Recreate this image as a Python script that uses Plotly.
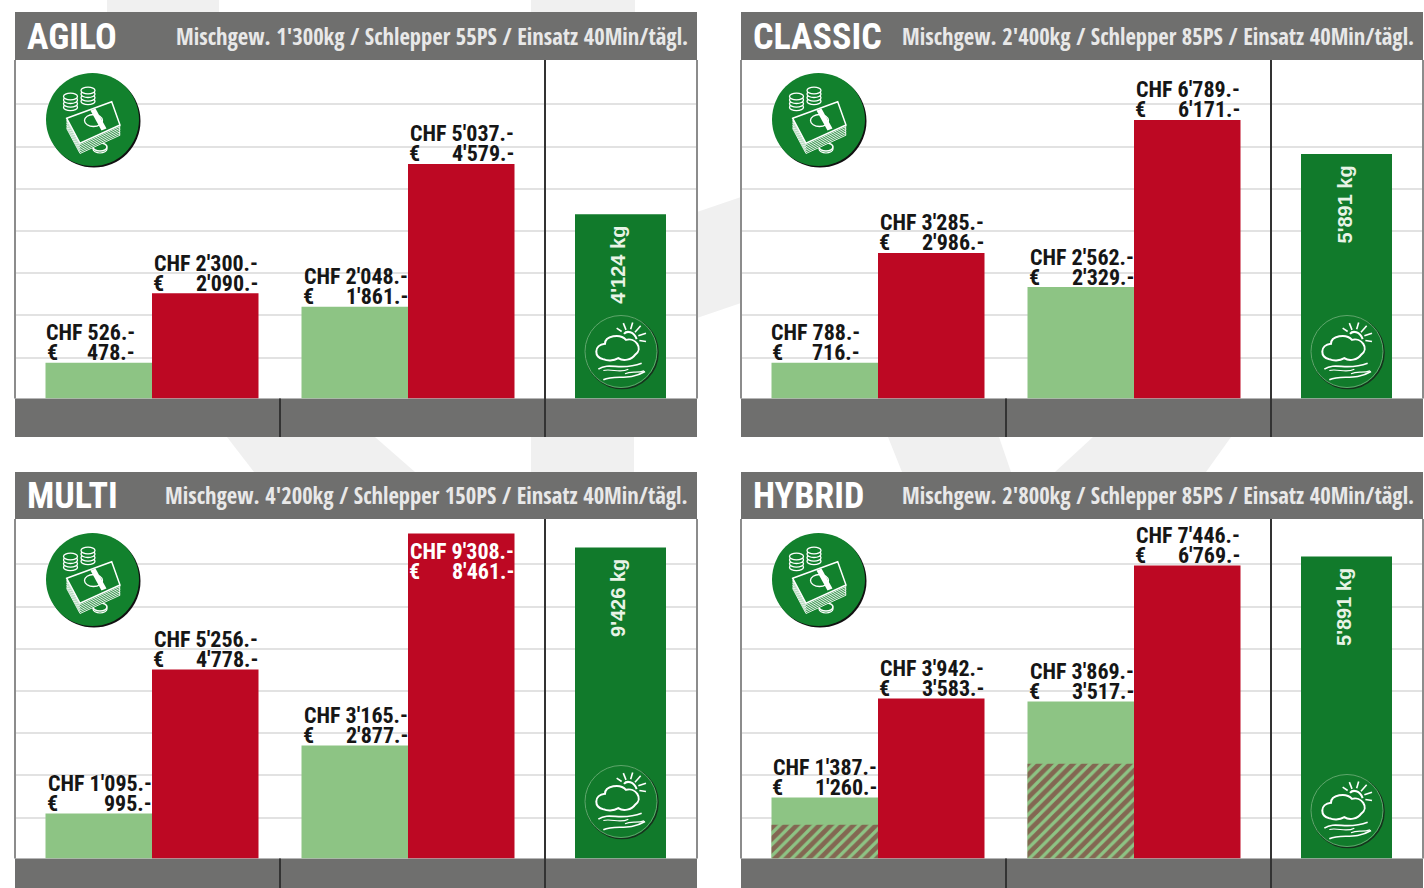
import plotly.graph_objects as go

W, H = 1424, 888

# ---------- data ----------
panel_names = ["AGILO", "CLASSIC", "MULTI", "HYBRID"]
panel_specs = [
    "Mischgew. 1'300kg / Schlepper 55PS / Einsatz 40Min/tägl.",
    "Mischgew. 2'400kg / Schlepper 85PS / Einsatz 40Min/tägl.",
    "Mischgew. 4'200kg / Schlepper 150PS / Einsatz 40Min/tägl.",
    "Mischgew. 2'800kg / Schlepper 85PS / Einsatz 40Min/tägl.",
]
groups = [0, 1]
# bar heights, read on each panel's gridline scale (1000 = one gridline)
agilo_green = [848, 2176]
agilo_red = [2493, 5557]
classic_green = [848, 2642]
classic_red = [3448, 6600]
multi_green = [1066, 2678]
multi_red = [4479, 7703]
hybrid_green = [1446, 3721]
hybrid_red = [3792, 6944]
hybrid_hatched = [799, 2245]
kg_heights = [4365, 5795, 7370, 7157]
kg_labels = ["4'124 kg", "5'891 kg", "9'426 kg", "5'891 kg"]
agilo_chf = ["526", "2'300", "2'048", "5'037"]
agilo_eur = ["478", "2'090", "1'861", "4'579"]
classic_chf = ["788", "3'285", "2'562", "6'789"]
classic_eur = ["716", "2'986", "2'329", "6'171"]
multi_chf = ["1'095", "5'256", "3'165", "9'308"]
multi_eur = ["995", "4'778", "2'877", "8'461"]
hybrid_chf = ["1'387", "3'942", "3'869", "7'446"]
hybrid_eur = ["1'260", "3'583", "3'517", "6'769"]
grid_values = [970, 1970, 2970, 3970, 4970, 5970, 6970]

green_series = [agilo_green, classic_green, multi_green, hybrid_green]
red_series = [agilo_red, classic_red, multi_red, hybrid_red]
chf_series = [agilo_chf, classic_chf, multi_chf, hybrid_chf]
eur_series = [agilo_eur, classic_eur, multi_eur, hybrid_eur]

# ---------- styles ----------
GREY = "#6f6f6e"
RED = "#bd0823"
LIGHT = "#8dc484"
DARK = "#117a2b"
ICON = "#12812d"
WM = "#f0f0f0"
GRID = "#e2e2e2"
BORDER = "#8c8c8c"
FONT = "Roboto Condensed"
HEAD_FONT = "Open Sans Condensed"


def px(x):
    return x / W


def py(y):
    return 1 - y / H


shapes = []


def rect(x0, y0, x1, y1, fill, layer="below"):
    shapes.append(dict(type="rect", xref="paper", yref="paper", x0=px(x0), x1=px(x1),
                       y0=py(y0), y1=py(y1), fillcolor=fill, line_width=0, layer=layer))


def vline(x, y0, y1, color, w=2):
    shapes.append(dict(type="line", xref="paper", yref="paper", x0=px(x), x1=px(x),
                       y0=py(y0), y1=py(y1), line=dict(color=color, width=w), layer="above"))


def poly(pts, fill, layer="below", line=None, lw=0):
    d = "M " + " L ".join(f"{px(a):.5f},{py(b):.5f}" for a, b in pts) + " Z"
    shapes.append(dict(type="path", xref="paper", yref="paper", path=d, fillcolor=fill,
                       line=dict(color=line or fill, width=lw), layer=layer))


def curve(segments, color="white", w=1.6):
    s = segments[0]
    d = f"M {px(s[0]):.5f},{py(s[1]):.5f}"
    for i in range(1, len(segments), 3):
        a, b, c = segments[i:i + 3]
        d += f" C {px(a[0]):.5f},{py(a[1]):.5f} {px(b[0]):.5f},{py(b[1]):.5f} {px(c[0]):.5f},{py(c[1]):.5f}"
    shapes.append(dict(type="path", xref="paper", yref="paper", path=d,
                       line=dict(color=color, width=w), layer="above"))


def ell(cx, cy, rx, ry, fill, line=None, lw=0):
    shapes.append(dict(type="circle", xref="paper", yref="paper", x0=px(cx - rx), x1=px(cx + rx),
                       y0=py(cy - ry), y1=py(cy + ry), fillcolor=fill,
                       line=dict(color=line or fill, width=lw), layer="above"))


def money_icon(cx, cy):
    ell(cx + 1.5, cy + 1.5, 46.5, 46.5, "#111111")
    ell(cx, cy, 46.5, 46.5, ICON)
    for sx, sy in [(-22, -17), (-4.5, -23)]:
        for k in range(3, -1, -1):
            ell(cx + sx, cy + sy + k * 3.6 - 6, 7, 3.4, ICON, "white", 1.3)
    ell(cx + 7.5, cy + 29.5, 7, 4, "rgba(0,0,0,0)", "white", 1.2)
    ell(cx + 7.5, cy + 27.5, 7, 4, ICON, "white", 1.6)
    base = [(-25.8, -1.2), (19.2, -17.8), (27.5, 5.5), (-12.5, 23.8)]
    for k in range(6, 0, -1):
        poly([(cx + a, cy + b + k * 1.7) for a, b in base], ICON, "above", "white", 0.9)
    poly([(cx + a, cy + b) for a, b in base], ICON, "above", "white", 1.5)
    ell(cx + 1, cy + 1, 9, 6, ICON, "white", 1.3)
    poly([(cx - 2, cy - 9), (cx + 3, cy - 11), (cx + 14, cy + 9), (cx + 9, cy + 11)], "white", "above")


def cloud_icon(cx, cy):
    ell(cx + 1, cy + 1, 36, 36, "rgba(0,0,0,0)", "#17311d", 1.6)
    ell(cx, cy, 36, 36, DARK, "#5fa76c", 1)
    X = lambda a: cx + (a - 153) / 3
    Y = lambda b: cy + (b - 155) / 3
    pt = lambda a, b: (X(a), Y(b))
    curve([pt(100, 178), pt(72, 175), pt(70, 135), pt(105, 132),
           pt(105, 108), pt(150, 100), pt(168, 120),
           pt(195, 112), pt(222, 145), pt(195, 165),
           pt(185, 180), pt(160, 185), pt(145, 175),
           pt(130, 185), pt(110, 183), pt(100, 178)], "white", 2)
    curve([pt(162, 102), pt(170, 92), pt(192, 94), pt(200, 118)], "white", 2)
    for a0, b0, a1, b1 in [(155, 95, 140, 85), (168, 90, 160, 70), (182, 88, 188, 68),
                           (195, 97, 212, 78), (205, 108, 228, 100), (208, 122, 228, 125)]:
        curve([pt(a0, b0), pt(a0, b0), pt(a1, b1), pt(a1, b1)], "white", 1.6)
    curve([pt(85, 208), pt(120, 185), pt(150, 215), pt(215, 190)], "white", 1.6)
    curve([pt(100, 212), pt(125, 205), pt(150, 222), pt(175, 208)], "white", 1.2)
    curve([pt(100, 240), pt(135, 222), pt(175, 245), pt(225, 215)], "white", 1.6)
    curve([pt(165, 222), pt(185, 212), pt(200, 222), pt(222, 213)], "white", 1.2)


# ---------- background watermark ----------
for pts in [
    [(107, 0), (219, 0), (219, 12), (107, 12)],
    [(531, 0), (635, 0), (635, 12), (531, 12)],
    [(227, 437), (375, 437), (415, 472), (254, 472)],
    [(531, 437), (634, 437), (634, 472), (531, 472)],
    [(888, 437), (999, 437), (1011, 472), (902, 472)],
    [(1093, 437), (1231, 437), (1206, 472), (1055, 472)],
    [(697, 212), (741, 197), (741, 303), (697, 318)],
]:
    poly(pts, WM)

fig = go.Figure()
annotations = []
layout_axes = {}

panel_origin = [(0, 0), (726, 0), (0, 460), (726, 460)]
money_y = [119.5, 119.5, 579.5, 579.5]
cloud_y = [351.5, 351.5, 801.5, 810.5]

for i, (ox, oy) in enumerate(panel_origin):
    left, right = 15 + ox, min(697 + ox, W)
    head_top, head_bot = 12 + oy, 60 + oy - (1 if oy else 0)
    base = 398.5 + oy
    foot_bot = min(437 + oy, H)
    plot_top = head_bot
    split = 545 + ox
    scale = 1000 / 42.2
    yr = [0, (base - plot_top) * scale]
    a, b = 2 * i + 1, 2 * i + 2

    rect(left, plot_top, right, base, "white")
    rect(left, head_top, right, head_bot, GREY)
    rect(left, base, right, foot_bot, GREY)

    common_y = dict(range=yr, tickmode="array", tickvals=grid_values, showticklabels=False,
                    showgrid=True, gridcolor=GRID, gridwidth=2, zeroline=False,
                    showline=False, ticks="", fixedrange=True)
    y_dom = [py(base), py(plot_top)]
    unit_l = 256
    cx0 = 152 + ox
    layout_axes[f"xaxis{a}"] = dict(domain=[px(left), px(split)], anchor=f"y{a}",
                                    range=[(left - cx0) / unit_l, (split - cx0) / unit_l],
                                    visible=False, fixedrange=True)
    layout_axes[f"yaxis{a}"] = dict(domain=y_dom, anchor=f"x{a}", **common_y)
    unit_r = 91
    cx1 = 620.5 + ox
    layout_axes[f"xaxis{b}"] = dict(domain=[px(split), px(right)], anchor=f"y{b}",
                                    range=[(split - cx1) / unit_r, (right - cx1) / unit_r],
                                    visible=False, fixedrange=True)
    layout_axes[f"yaxis{b}"] = dict(domain=y_dom, anchor=f"x{b}", **common_y)

    hw = 0.416
    fig.add_bar(x=groups, y=green_series[i], width=hw, offset=-hw, marker=dict(color=LIGHT, line_width=0),
                xaxis=f"x{a}", yaxis=f"y{a}", showlegend=False)
    if panel_names[i] == "HYBRID":
        fig.add_bar(x=groups, y=hybrid_hatched, width=hw, offset=-hw,
                    marker=dict(color=LIGHT, line_width=0,
                                pattern=dict(shape="/", bgcolor=LIGHT, fgcolor="#7a0a1f", size=8, solidity=0.6)),
                    xaxis=f"x{a}", yaxis=f"y{a}", showlegend=False)
    fig.add_bar(x=groups, y=red_series[i], width=hw, offset=0, marker=dict(color=RED, line_width=0),
                xaxis=f"x{a}", yaxis=f"y{a}", showlegend=False)
    fig.add_bar(x=[0], y=[kg_heights[i]], width=1.0, marker=dict(color=DARK, line_width=0),
                xaxis=f"x{b}", yaxis=f"y{b}", showlegend=False)

    # frame and dividers
    vline(left, plot_top, base, BORDER)
    if right < W:
        vline(right, plot_top, base, BORDER)
    vline(split, plot_top, foot_bot, "#333333", 2)
    vline(280 + ox, base, foot_bot, "#333333", 2)

    # header text
    annotations.append(dict(xref="paper", yref="paper", x=px(24.5 + ox), y=py(37 + oy - (1 if oy else 0)),
                            text=panel_names[i], showarrow=False, xanchor="left", yanchor="middle",
                            font=dict(family=FONT, size=36, color="white", weight=700)))
    annotations.append(dict(xref="paper", yref="paper", x=px(690 + ox), y=py(37 + oy - 1 * (1 if oy else 0)),
                            text=panel_specs[i], showarrow=False, xanchor="right", yanchor="middle",
                            font=dict(family=HEAD_FONT, size=22.6, color="#e8e8e8")))

    # value labels
    heights = [green_series[i][0], red_series[i][0], green_series[i][1], red_series[i][1]]
    xs = [0 - hw, 0, 1 - hw, 1]
    for j in range(4):
        chf, eur = chf_series[i][j], eur_series[i][j]
        inside = chf == "9'308"
        col = "white" if inside else "#161616"
        r1, r2 = (-18, -38) if inside else (30, 10)
        w = 104 if "'" in chf else 87
        base_ann = dict(xref=f"x{a}", yref=f"y{a}", x=xs[j], y=heights[j], showarrow=False, yanchor="middle",
                        font=dict(family=FONT, size=22, color=col, weight=700))
        annotations.append(dict(base_ann, text=f"CHF {chf}.-", xanchor="right", xshift=4 + w, yshift=r1))
        annotations.append(dict(base_ann, text="€", xanchor="left", xshift=-1, yshift=r2))
        annotations.append(dict(base_ann, text=f"{eur}.-", xanchor="right", xshift=4 + w, yshift=r2))

    annotations.append(dict(xref=f"x{b}", yref=f"y{b}", x=0, y=kg_heights[i], text=f"<b>{kg_labels[i]}</b>",
                            showarrow=False, textangle=-90, yanchor="top", xanchor="center",
                            xshift=-2, yshift=-10,
                            font=dict(family="Liberation Sans", size=20, color="#e8f3e6")))

    money_icon(92.5 + ox, money_y[i])
    cloud_icon(621 + ox, cloud_y[i])

fig.update_layout(
    width=W, height=H, margin=dict(l=0, r=0, t=0, b=0, pad=0), autosize=False,
    paper_bgcolor="white", plot_bgcolor="rgba(0,0,0,0)", barmode="overlay",
    showlegend=False, shapes=shapes, annotations=annotations, hovermode=False,
    **layout_axes,
)

fig.write_html("out.html", config={"displayModeBar": False, "staticPlot": True},
               post_script="document.body.style.margin='0';document.body.style.overflow='hidden';")
